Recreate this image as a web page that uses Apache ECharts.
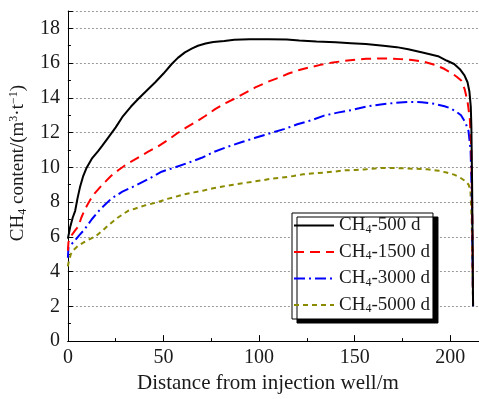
<!DOCTYPE html>
<html>
<head>
<meta charset="utf-8">
<script src="https://cdn.jsdelivr.net/npm/echarts@6/dist/echarts.min.js"></script>
<style>html,body{margin:0;padding:0;background:#fff}#c{width:479px;height:399px}</style>
</head>
<body>
<div id="c"></div>
<script>
const seriesNames = ['CH4-500 d', 'CH4-1500 d', 'CH4-3000 d', 'CH4-5000 d'];
const xTickLabels = ['0', '50', '100', '150', '200'];
const yTickLabels = ['0', '2', '4', '6', '8', '10', '12', '14', '16', '18'];

const d500 = [[0,5.9],[0.3,6.0],[1.2,6.57],[2.5,7.1],[3.8,7.5],[5,8.2],[6.3,8.85],[8,9.5],[9.8,9.98],[12.5,10.5],[15.8,10.93],[18,11.25],[21,11.7],[25,12.3],[28.5,12.9],[33,13.5],[37,13.96],[41,14.4],[45.7,14.9],[50,15.4],[54.3,15.95],[57.5,16.3],[61.2,16.62],[65,16.85],[68,17.0],[72,17.13],[76,17.22],[81.8,17.28],[87,17.35],[95,17.37],[105,17.37],[114.5,17.36],[121,17.3],[130,17.25],[140,17.2],[148,17.15],[155.8,17.1],[165,17.0],[172,16.92],[178,16.8],[186,16.6],[193.6,16.4],[198,16.15],[202,15.95],[205,15.65],[207.4,15.3],[209,14.9],[210,14.35],[210.7,13.5],[211,12.4],[211.4,9],[211.7,5],[211.9,2]];

const d1500 = [[0,5.2],[0.3,5.7],[2,6.1],[4,6.4],[5.5,6.6],[7,7.1],[9,7.6],[11.5,8.1],[14,8.5],[18,9.0],[22.5,9.5],[26.5,9.85],[31,10.2],[36.5,10.55],[42,10.9],[47,11.2],[52,11.55],[57,11.95],[62,12.3],[67,12.62],[72,12.97],[77,13.35],[82.5,13.7],[88,14.0],[93,14.3],[98,14.6],[104,14.9],[110,15.15],[115.4,15.4],[121,15.6],[126.6,15.76],[132,15.9],[138.6,16.04],[145,16.13],[150.7,16.2],[156,16.25],[162.7,16.27],[168,16.27],[173.9,16.23],[180,16.18],[186,16.08],[192,15.9],[197,15.66],[201,15.4],[203.5,15.2],[205.7,15.0],[207.5,14.5],[209,13.8],[210.2,12.8],[211,11],[211.5,7],[211.9,2]];

const d3000 = [[0,4.8],[0.3,5.4],[1.5,5.55],[3,5.7],[6,6.1],[8.5,6.4],[12.4,7.0],[17,7.6],[22.7,8.2],[28.5,8.6],[35.6,8.96],[42.5,9.35],[49,9.75],[56,10.0],[63,10.27],[70,10.55],[76.6,10.9],[84,11.2],[91,11.46],[98,11.7],[106,11.97],[113,12.2],[120,12.48],[127,12.7],[134,12.98],[141,13.15],[148.6,13.3],[156,13.5],[163.6,13.62],[170,13.7],[178,13.77],[185,13.75],[192,13.65],[197,13.52],[200,13.4],[203,13.22],[205.6,13.0],[207.8,12.6],[209.5,12.1],[210.6,11],[211.3,8],[211.9,2]];

const d5000 = [[0,4.3],[0.3,4.5],[1.5,5.0],[3,5.25],[5.5,5.5],[8.5,5.7],[12,5.9],[15,6.08],[18,6.35],[21,6.65],[26,7.1],[31.5,7.5],[35,7.62],[40,7.8],[46,7.97],[52.5,8.2],[55.5,8.28],[60.7,8.45],[66,8.56],[71,8.67],[76,8.8],[81,8.9],[86.5,9.0],[91.5,9.09],[96.5,9.17],[102,9.26],[107,9.36],[112,9.41],[118,9.5],[123,9.6],[129,9.66],[134,9.7],[139.5,9.76],[144.5,9.83],[150.5,9.85],[155,9.88],[160.7,9.94],[164,9.97],[170,9.97],[176,9.94],[182,9.92],[188,9.89],[194,9.8],[198,9.7],[202,9.58],[205,9.42],[208,9.2],[209.6,9.0],[210.5,8.7],[211.2,7],[211.9,2]];

const seriesData = [d500, d1500, d3000, d5000];
const colors = ['#000000', '#ff0000', '#0000ff', '#8b8b00'];
const dashes = ['solid', [10, 6], [11, 4, 2, 4], [5, 4]];

const FONT = "'Liberation Serif', 'Times New Roman', serif";
const TXT = '#1a1a1a';

function richName(n) {
  return '{m|CH}{s|4}{m|' + n.slice(3) + '}';
}

const chart = echarts.init(document.getElementById('c'), null, {renderer: 'canvas'});
chart.setOption({
  animation: false,
  backgroundColor: '#fff',
  grid: {left: 65, top: 11, width: 417, bottom: 53, containLabel: false},
  legend: {
    orient: 'vertical',
    left: 292, top: 213,
    itemWidth: 40, itemHeight: 20, itemGap: 7,
    padding: [3, 3, 4, 1],
    backgroundColor: '#fff',
    borderColor: '#000', borderWidth: 1,
    borderRadius: 0,
    shadowColor: '#000', shadowBlur: 0, shadowOffsetX: 5, shadowOffsetY: 4,
    itemStyle: {opacity: 0},
    data: seriesNames,
    formatter: richName,
    textStyle: {
      fontFamily: FONT, fontSize: 19, color: TXT,
      rich: {
        m: {fontFamily: FONT, fontSize: 19, color: TXT, lineHeight: 20},
        s: {fontFamily: FONT, fontSize: 12, color: TXT, lineHeight: 10, verticalAlign: 'bottom'}
      }
    }
  },
  xAxis: [{
    type: 'value', min: 0, max: 215, interval: 50,
    name: 'Distance from injection well/m',
    nameLocation: 'middle', nameGap: 29,
    nameTextStyle: {fontFamily: FONT, fontSize: 21, color: TXT, padding: [0, 11, 0, 0]},
    axisLine: {show: true, onZero: false, lineStyle: {color: '#000', width: 1}},
    axisTick: {show: true, inside: true, length: 6, lineStyle: {color: '#000'}},
    minorTick: {show: true, splitNumber: 2, length: 3, lineStyle: {color: '#000'}},
    axisLabel: {fontFamily: FONT, fontSize: 20, color: TXT, margin: 7, showMaxLabel: false,
      formatter: v => xTickLabels.includes(String(v)) ? String(v) : ''},
    splitLine: {show: false}
  }, {
    type: 'value', position: 'top', min: 0, max: 215,
    axisLine: {show: true, lineStyle: {color: '#000', width: 1}},
    axisTick: {show: false}, axisLabel: {show: false}, splitLine: {show: false}
  }],
  yAxis: {
    type: 'value', min: 0, max: 19, interval: 2,
    name: '{m|CH}{s|4}{m| content/(m}{p|3}{m|·t}{p|−1}{m|)}',
    nameLocation: 'middle', nameGap: 32, nameRotate: 90,
    nameTextStyle: {
      fontFamily: FONT, fontSize: 19, color: TXT, padding: [0, 0, 0, 26],
      rich: {
        m: {fontFamily: FONT, fontSize: 19, color: TXT, lineHeight: 21},
        s: {fontFamily: FONT, fontSize: 12, color: TXT, lineHeight: 10, verticalAlign: 'bottom'},
        p: {fontFamily: FONT, fontSize: 12, color: TXT, lineHeight: 11, verticalAlign: 'top'}
      }
    },
    axisLine: {show: true, onZero: false, lineStyle: {color: '#000', width: 1}},
    axisTick: {show: true, inside: true, length: 5, lineStyle: {color: '#000'}},
    minorTick: {show: true, splitNumber: 2, length: 3, lineStyle: {color: '#000'}},
    axisLabel: {fontFamily: FONT, fontSize: 20, color: TXT, margin: 8, showMaxLabel: false,
      formatter: v => yTickLabels.includes(String(v)) ? String(v) : ''},
    splitLine: {show: true, lineStyle: {color: '#999', width: 1, type: [2, 2]}}
  },
  series: seriesNames.map((n, i) => ({
    name: n, type: 'line', data: seriesData[i],
    showSymbol: false, symbol: 'none', smooth: false, clip: true,
    lineStyle: {color: colors[i], width: 2, type: dashes[i]},
    itemStyle: {color: colors[i]},
    z: 10 - i
  }))
});
</script>
</body>
</html>
